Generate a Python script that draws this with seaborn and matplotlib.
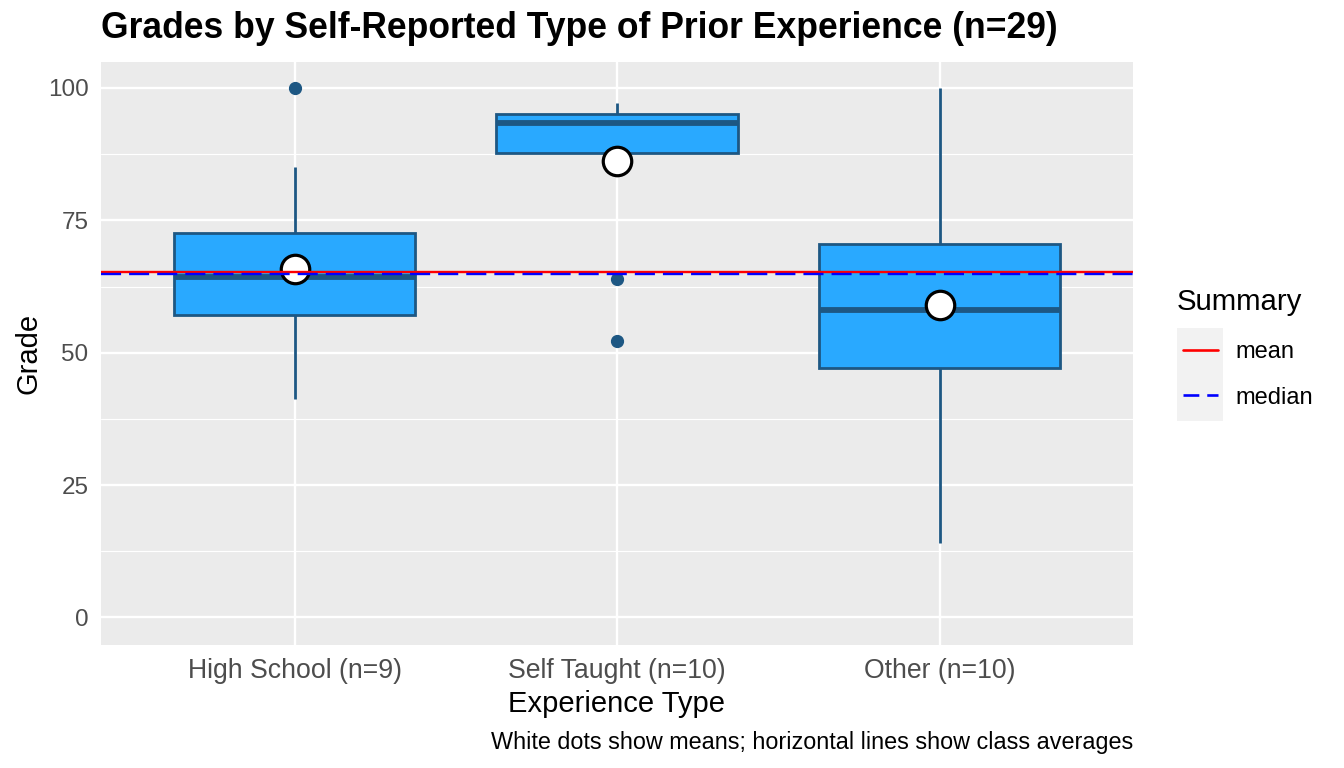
import numpy as np
import pandas as pd
import seaborn as sns
import matplotlib.pyplot as plt
from matplotlib.lines import Line2D
from matplotlib.patches import Rectangle

# grades per self-reported experience group
experience = ["High School", "Self Taught", "Other"]
high_school = [41.2, 47.5, 57.1, 60.0, 64.25, 64.4, 72.7, 85.0, 100.0]
self_taught = [52.3, 64.0, 87.7, 87.7, 92.6, 94.0, 95.05, 95.05, 97.1, 97.1]
other = [14.1, 40.0, 46.5, 48.9, 56.0, 60.2, 67.8, 71.4, 85.0, 100.0]

# class-wide reference lines
class_mean = 65.2
class_median = 64.9

groups = [high_school, self_taught, other]
labels = [f"{name} (n={len(g)})" for name, g in zip(experience, groups)]
df = pd.DataFrame({
    "label": np.repeat(labels, [len(g) for g in groups]),
    "grade": np.concatenate(groups),
})
n_total = len(df)

sns.set_theme(style="darkgrid")
plt.rcParams["font.family"] = ["Liberation Sans", "DejaVu Sans"]
plt.rcParams["text.color"] = "black"
plt.rcParams["axes.labelcolor"] = "black"

fill = "#29A9FF"
edge = "#1D5783"
dash = (0, (8.5, 3.4))

fig = plt.figure(figsize=(13.44, 7.68), dpi=100)
ax = fig.add_axes([101 / 1344, 1 - 645 / 768, 1032 / 1344, 583 / 768])
ax.set_facecolor("#EBEBEB")

sns.boxplot(data=df, x="label", y="grade", order=labels, ax=ax,
            color=fill, linecolor=edge, saturation=1, width=0.75,
            linewidth=2.0, showcaps=False,
            medianprops={"linewidth": 4.2, "color": edge},
            flierprops={"marker": "o", "markersize": 8.5, "markerfacecolor": edge,
                        "markeredgecolor": edge})

sns.pointplot(data=df, x="label", y="grade", order=labels, ax=ax,
              estimator="mean", errorbar=None, linestyle="none",
              marker="o", color="white", markersize=20.5,
              markeredgecolor="black", markeredgewidth=2.3, zorder=5)

ax.axhline(class_mean, color="red", lw=1.7, zorder=6)
ax.axhline(class_median, color="blue", lw=1.7, ls=dash, zorder=6)

ax.set_xlim(-0.6, 2.6)
ax.set_ylim(-5.2, 104.9)
ax.set_yticks([0, 25, 50, 75, 100])
ax.set_yticks([12.5, 37.5, 62.5, 87.5], minor=True)
ax.grid(True, which="major", color="white", lw=1.7)
ax.grid(True, which="minor", axis="y", color="white", lw=0.8)
ax.set_axisbelow(True)
for s in ax.spines.values():
    s.set_visible(False)

ax.tick_params(axis="both", which="major", length=5, width=1.1, color="#333333",
               labelcolor="#4D4D4D", pad=4)
ax.tick_params(axis="y", labelsize=17.5)
ax.tick_params(axis="x", labelsize=19.2)
ax.tick_params(axis="both", which="minor", length=0)
ax.set_xlabel("Experience Type", fontsize=21, labelpad=5)
ax.set_ylabel("Grade", fontsize=21, labelpad=4)

fig.text(101 / 1344, 1 - 38.5 / 768,
         f"Grades by Self-Reported Type of Prior Experience (n={n_total})",
         fontsize=25.6, fontweight="bold", ha="left", va="baseline")
fig.text(1133 / 1344, 1 - 749 / 768,
         "White dots show means; horizontal lines show class averages",
         fontsize=16.8, ha="right", va="baseline")

# legend in the right margin
fig.patches.append(Rectangle((1177 / 1344, 1 - 421 / 768), 46 / 1344, 93 / 768,
                             transform=fig.transFigure, facecolor="#F2F2F2",
                             edgecolor="none", zorder=0))
fig.text(1177 / 1344, 1 - 302 / 768, "Summary", fontsize=21.2,
         ha="left", va="center")
handles = [Line2D([], [], color="red", lw=1.9),
           Line2D([], [], color="blue", lw=1.9, ls=(0, (6, 3)))]
leg = fig.legend(handles, ["mean", "median"],
                 loc="upper left", bbox_to_anchor=(1183 / 1344, 1 - 341 / 768),
                 frameon=False, fontsize=17, borderpad=0, borderaxespad=0,
                 handlelength=1.5, handletextpad=0.7, labelspacing=1.0)

fig.savefig("out.png", dpi=100, facecolor="white")
